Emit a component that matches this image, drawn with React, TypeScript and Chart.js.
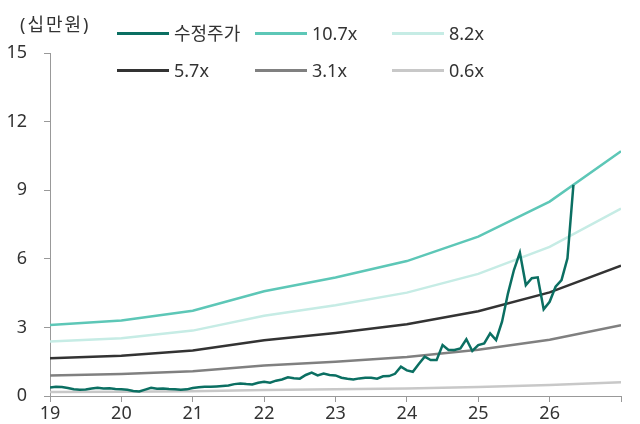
import React, { useEffect, useRef } from "react";
import { Chart, registerables } from "chart.js";

Chart.register(...registerables);

// Year axis (19 = 2019 ... 27 = 2027)
const bandYears = [19, 20, 21, 22, 23, 24, 25, 26, 27];
const band107 = [3.1, 3.3, 3.73, 4.58, 5.18, 5.9, 6.97, 8.5, 10.7];
const band82 = [2.38, 2.53, 2.86, 3.51, 3.97, 4.52, 5.34, 6.52, 8.2];
const band57 = [1.65, 1.76, 1.99, 2.44, 2.76, 3.14, 3.71, 4.53, 5.7];
const band31 = [0.9, 0.96, 1.08, 1.33, 1.5, 1.71, 2.02, 2.46, 3.1];
const band06 = [0.17, 0.19, 0.21, 0.26, 0.29, 0.33, 0.39, 0.48, 0.6];

// Monthly adjusted price (십만원), Jan 2019 onward
const price2019 = [0.37, 0.4, 0.39, 0.35, 0.3, 0.27, 0.28, 0.33, 0.36, 0.33, 0.34, 0.31];
const price2020 = [0.3, 0.27, 0.22, 0.2, 0.28, 0.36, 0.32, 0.33, 0.31, 0.3, 0.27, 0.29];
const price2021 = [0.35, 0.38, 0.4, 0.4, 0.42, 0.44, 0.46, 0.52, 0.55, 0.52, 0.5, 0.58];
const price2022 = [0.62, 0.58, 0.67, 0.72, 0.82, 0.78, 0.76, 0.92, 1.02, 0.9, 0.98, 0.92];
const price2023 = [0.9, 0.8, 0.75, 0.72, 0.77, 0.8, 0.8, 0.76, 0.86, 0.87, 0.97, 1.28];
const price2024 = [1.12, 1.06, 1.4, 1.72, 1.57, 1.57, 2.23, 2.01, 2.01, 2.08, 2.48, 1.97];
const price2025 = [2.23, 2.3, 2.74, 2.45, 3.25, 4.49, 5.51, 6.27, 4.85, 5.15, 5.19, 3.79];
const price2026 = [4.12, 4.78, 5.07, 6.02, 9.23];
const priceStartYear = 19;

const xTicks = [19, 20, 21, 22, 23, 24, 25, 26, 27];
const yTicks = [0, 3, 6, 9, 12, 15];

const FONT = "'Noto Sans', 'Noto Sans CJK KR', sans-serif";

const legendItems = [
  { label: "수정주가", color: "#0b6f62", col: 0, row: 0 },
  { label: "10.7x", color: "#5dc7b7", col: 1, row: 0 },
  { label: "8.2x", color: "#c6ece5", col: 2, row: 0 },
  { label: "5.7x", color: "#333333", col: 0, row: 1 },
  { label: "3.1x", color: "#808080", col: 1, row: 1 },
  { label: "0.6x", color: "#c8c8c8", col: 2, row: 1 },
];

export default function App() {
  const ref = useRef<HTMLCanvasElement>(null);

  useEffect(() => {
    const canvas = ref.current;
    if (!canvas) return;
    const priceMonthly = [
      ...price2019,
      ...price2020,
      ...price2021,
      ...price2022,
      ...price2023,
      ...price2024,
      ...price2025,
      ...price2026,
    ];
    const pricePts = priceMonthly.map((v, i) => ({ x: priceStartYear + i / 12, y: v }));
    const band = (arr: number[]) => bandYears.map((x, i) => ({ x, y: arr[i] }));

    const chart = new Chart(canvas, {
      type: "line",
      data: {
        datasets: [
          { label: "수정주가", data: pricePts, borderColor: "#0b6f62", borderWidth: 2.5 },
          { label: "10.7x", data: band(band107), borderColor: "#5dc7b7", borderWidth: 2.5 },
          { label: "8.2x", data: band(band82), borderColor: "#c6ece5", borderWidth: 2.5 },
          { label: "5.7x", data: band(band57), borderColor: "#333333", borderWidth: 2.5 },
          { label: "3.1x", data: band(band31), borderColor: "#808080", borderWidth: 2.5 },
          { label: "0.6x", data: band(band06), borderColor: "#c8c8c8", borderWidth: 2.5 },
        ],
      },
      options: {
        animation: false,
        responsive: false,
        events: [],
        layout: { padding: { top: 53, right: 19, left: 0, bottom: 0 } },
        elements: { point: { radius: 0 }, line: { tension: 0, fill: false } },
        plugins: { legend: { display: false }, tooltip: { enabled: false } },
        scales: {
          x: {
            type: "linear",
            min: 19,
            max: 27,
            afterBuildTicks: (s: any) => {
              s.ticks = xTicks.map((v) => ({ value: v }));
            },
            afterFit: (s: any) => {
              s.height = 28;
            },
            ticks: {
              autoSkip: false,
              maxRotation: 0,
              padding: 1,
              color: "#333",
              font: { family: FONT, size: 18 },
              callback: (v: any) => (Number(v) === 27 ? "" : String(v)),
            },
            grid: { drawOnChartArea: false, tickLength: 6, color: "#999" },
            border: { color: "#999", width: 1 },
          },
          y: {
            min: 0,
            max: 15,
            afterBuildTicks: (s: any) => {
              s.ticks = yTicks.map((v) => ({ value: v }));
            },
            afterFit: (s: any) => {
              s.width = 50;
            },
            ticks: {
              padding: 17,
              color: "#333",
              font: { family: FONT, size: 18 },
            },
            grid: { drawOnChartArea: false, tickLength: 6, color: "#999" },
            border: { color: "#999", width: 1 },
          },
        },
      },
    } as any);
    return () => chart.destroy();
  }, []);

  const colX = [117, 255, 392];
  const rowY = [33, 70];

  return (
    <div
      style={{
        position: "fixed",
        left: 0,
        top: 0,
        width: 640,
        height: 424,
        background: "#fff",
        fontFamily: FONT,
        color: "#333",
        overflow: "hidden",
      }}
    >
      <canvas
        ref={ref}
        width={640}
        height={424}
        style={{ position: "absolute", left: 0, top: 0, width: 640, height: 424 }}
      />
      <div
        style={{
          position: "absolute",
          left: 20,
          top: 12,
          fontSize: 18,
          lineHeight: "24px",
          letterSpacing: 2,
          whiteSpace: "nowrap",
        }}
      >
        (십만원)
      </div>
      {legendItems.map((it) => (
        <div
          key={it.label}
          style={{
            position: "absolute",
            left: colX[it.col],
            top: rowY[it.row] - 12,
            height: 24,
            display: "flex",
            alignItems: "center",
            whiteSpace: "nowrap",
          }}
        >
          <div style={{ width: 52, height: 3, background: it.color }} />
          <span style={{ marginLeft: 5, fontSize: 18, lineHeight: "24px" }}>{it.label}</span>
        </div>
      ))}
    </div>
  );
}
